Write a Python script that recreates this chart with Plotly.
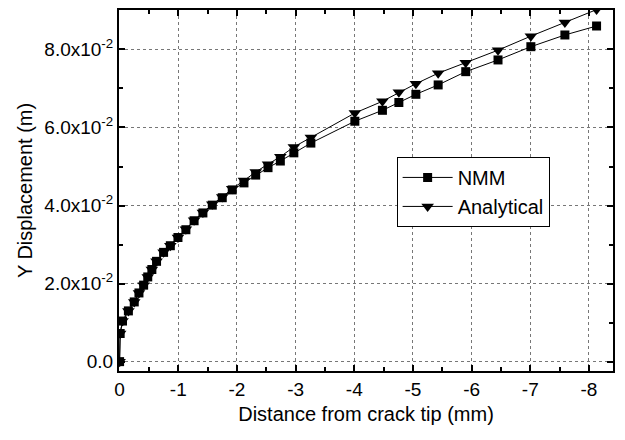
import plotly.graph_objects as go

# Data
distance = [0, -0.01, -0.05, -0.15, -0.25, -0.33, -0.41, -0.48, -0.55, -0.63, -0.75,
            -0.865, -0.995, -1.13, -1.27, -1.42, -1.58, -1.75, -1.92, -2.12, -2.32,
            -2.53, -2.74, -2.97, -3.26, -4.01, -4.48, -4.76, -5.05, -5.43, -5.90,
            -6.45, -7.01, -7.59, -8.13]
nmm = [0, 0.0072, 0.0104, 0.013, 0.0153, 0.0176, 0.0196, 0.0217, 0.0236, 0.0257, 0.028,
       0.0297, 0.0318, 0.0338, 0.0361, 0.0381, 0.0401, 0.042, 0.044, 0.0458, 0.0478,
       0.0497, 0.0514, 0.0535, 0.0560, 0.0616, 0.0644, 0.0664, 0.0685, 0.0709, 0.0743,
       0.0773, 0.0807, 0.0837, 0.0860]
analytical = [0, 0.0072, 0.0104, 0.013, 0.0153, 0.0176, 0.0196, 0.0217, 0.0236, 0.0257, 0.028,
              0.0297, 0.0318, 0.0339, 0.0362, 0.0382, 0.0403, 0.0422, 0.0443, 0.0464, 0.0486,
              0.0506, 0.0525, 0.0550, 0.0574, 0.0637, 0.0667, 0.0690, 0.0712, 0.0739, 0.0766,
              0.0798, 0.0834, 0.0869, 0.0902]

x_ticks = [0, -1, -2, -3, -4, -5, -6, -7, -8]
x_ticktext = ["0", "-1", "-2", "-3", "-4", "-5", "-6", "-7", "-8"]
y_ticks = [0.0, 0.02, 0.04, 0.06, 0.08]
y_ticktext = ["0.0", "2.0x10<sup>-2</sup>", "4.0x10<sup>-2</sup>",
              "6.0x10<sup>-2</sup>", "8.0x10<sup>-2</sup>"]

FONT = "Liberation Sans, Arial, sans-serif"

fig = go.Figure()
fig.add_trace(go.Scatter(x=distance, y=nmm, name="NMM", mode="lines+markers",
                         line=dict(color="black", width=1),
                         marker=dict(symbol="square", size=9, color="black")))
fig.add_trace(go.Scatter(x=distance, y=analytical, name="Analytical", mode="lines+markers",
                         line=dict(color="black", width=1),
                         marker=dict(symbol="triangle-down", size=11, color="black")))

axis_common = dict(
    showline=True, linecolor="black", linewidth=2, mirror="allticks",
    ticks="inside", ticklen=6, tickwidth=1.5, tickcolor="black",
    showgrid=True, gridcolor="#777", griddash="dot", gridwidth=1,
    zeroline=False,
    tickfont=dict(family=FONT, size=19, color="black"),
    title_font=dict(family=FONT, size=20, color="black"),
)

fig.update_xaxes(**axis_common, range=[0.01, -8.41], tickmode="array",
                 tickvals=x_ticks, ticktext=x_ticktext,
                 minor=dict(ticks="inside", dtick=0.5, ticklen=4, tickcolor="black", showgrid=False),
                 title_text="Distance from crack tip (mm)", title_standoff=8)
fig.update_yaxes(**axis_common, range=[-0.0024, 0.0901], tickmode="array",
                 tickvals=y_ticks, ticktext=y_ticktext,
                 minor=dict(ticks="inside", dtick=0.01, tick0=0, ticklen=4, tickcolor="black", showgrid=False),
                 title_text="Y Displacement (m)", title_standoff=6)

fig.update_layout(
    width=625, height=440,
    margin=dict(l=119, r=12, t=8, b=69),
    plot_bgcolor="white", paper_bgcolor="white",
    font=dict(family=FONT, color="black"),
    legend=dict(x=0.562, y=0.593, xanchor="left", yanchor="top",
                bgcolor="white", bordercolor="black", borderwidth=1,
                font=dict(family=FONT, size=20, color="black"),
                tracegroupgap=0, itemsizing="trace", itemwidth=50),
    showlegend=True,
)

fig.write_html("out.html")
